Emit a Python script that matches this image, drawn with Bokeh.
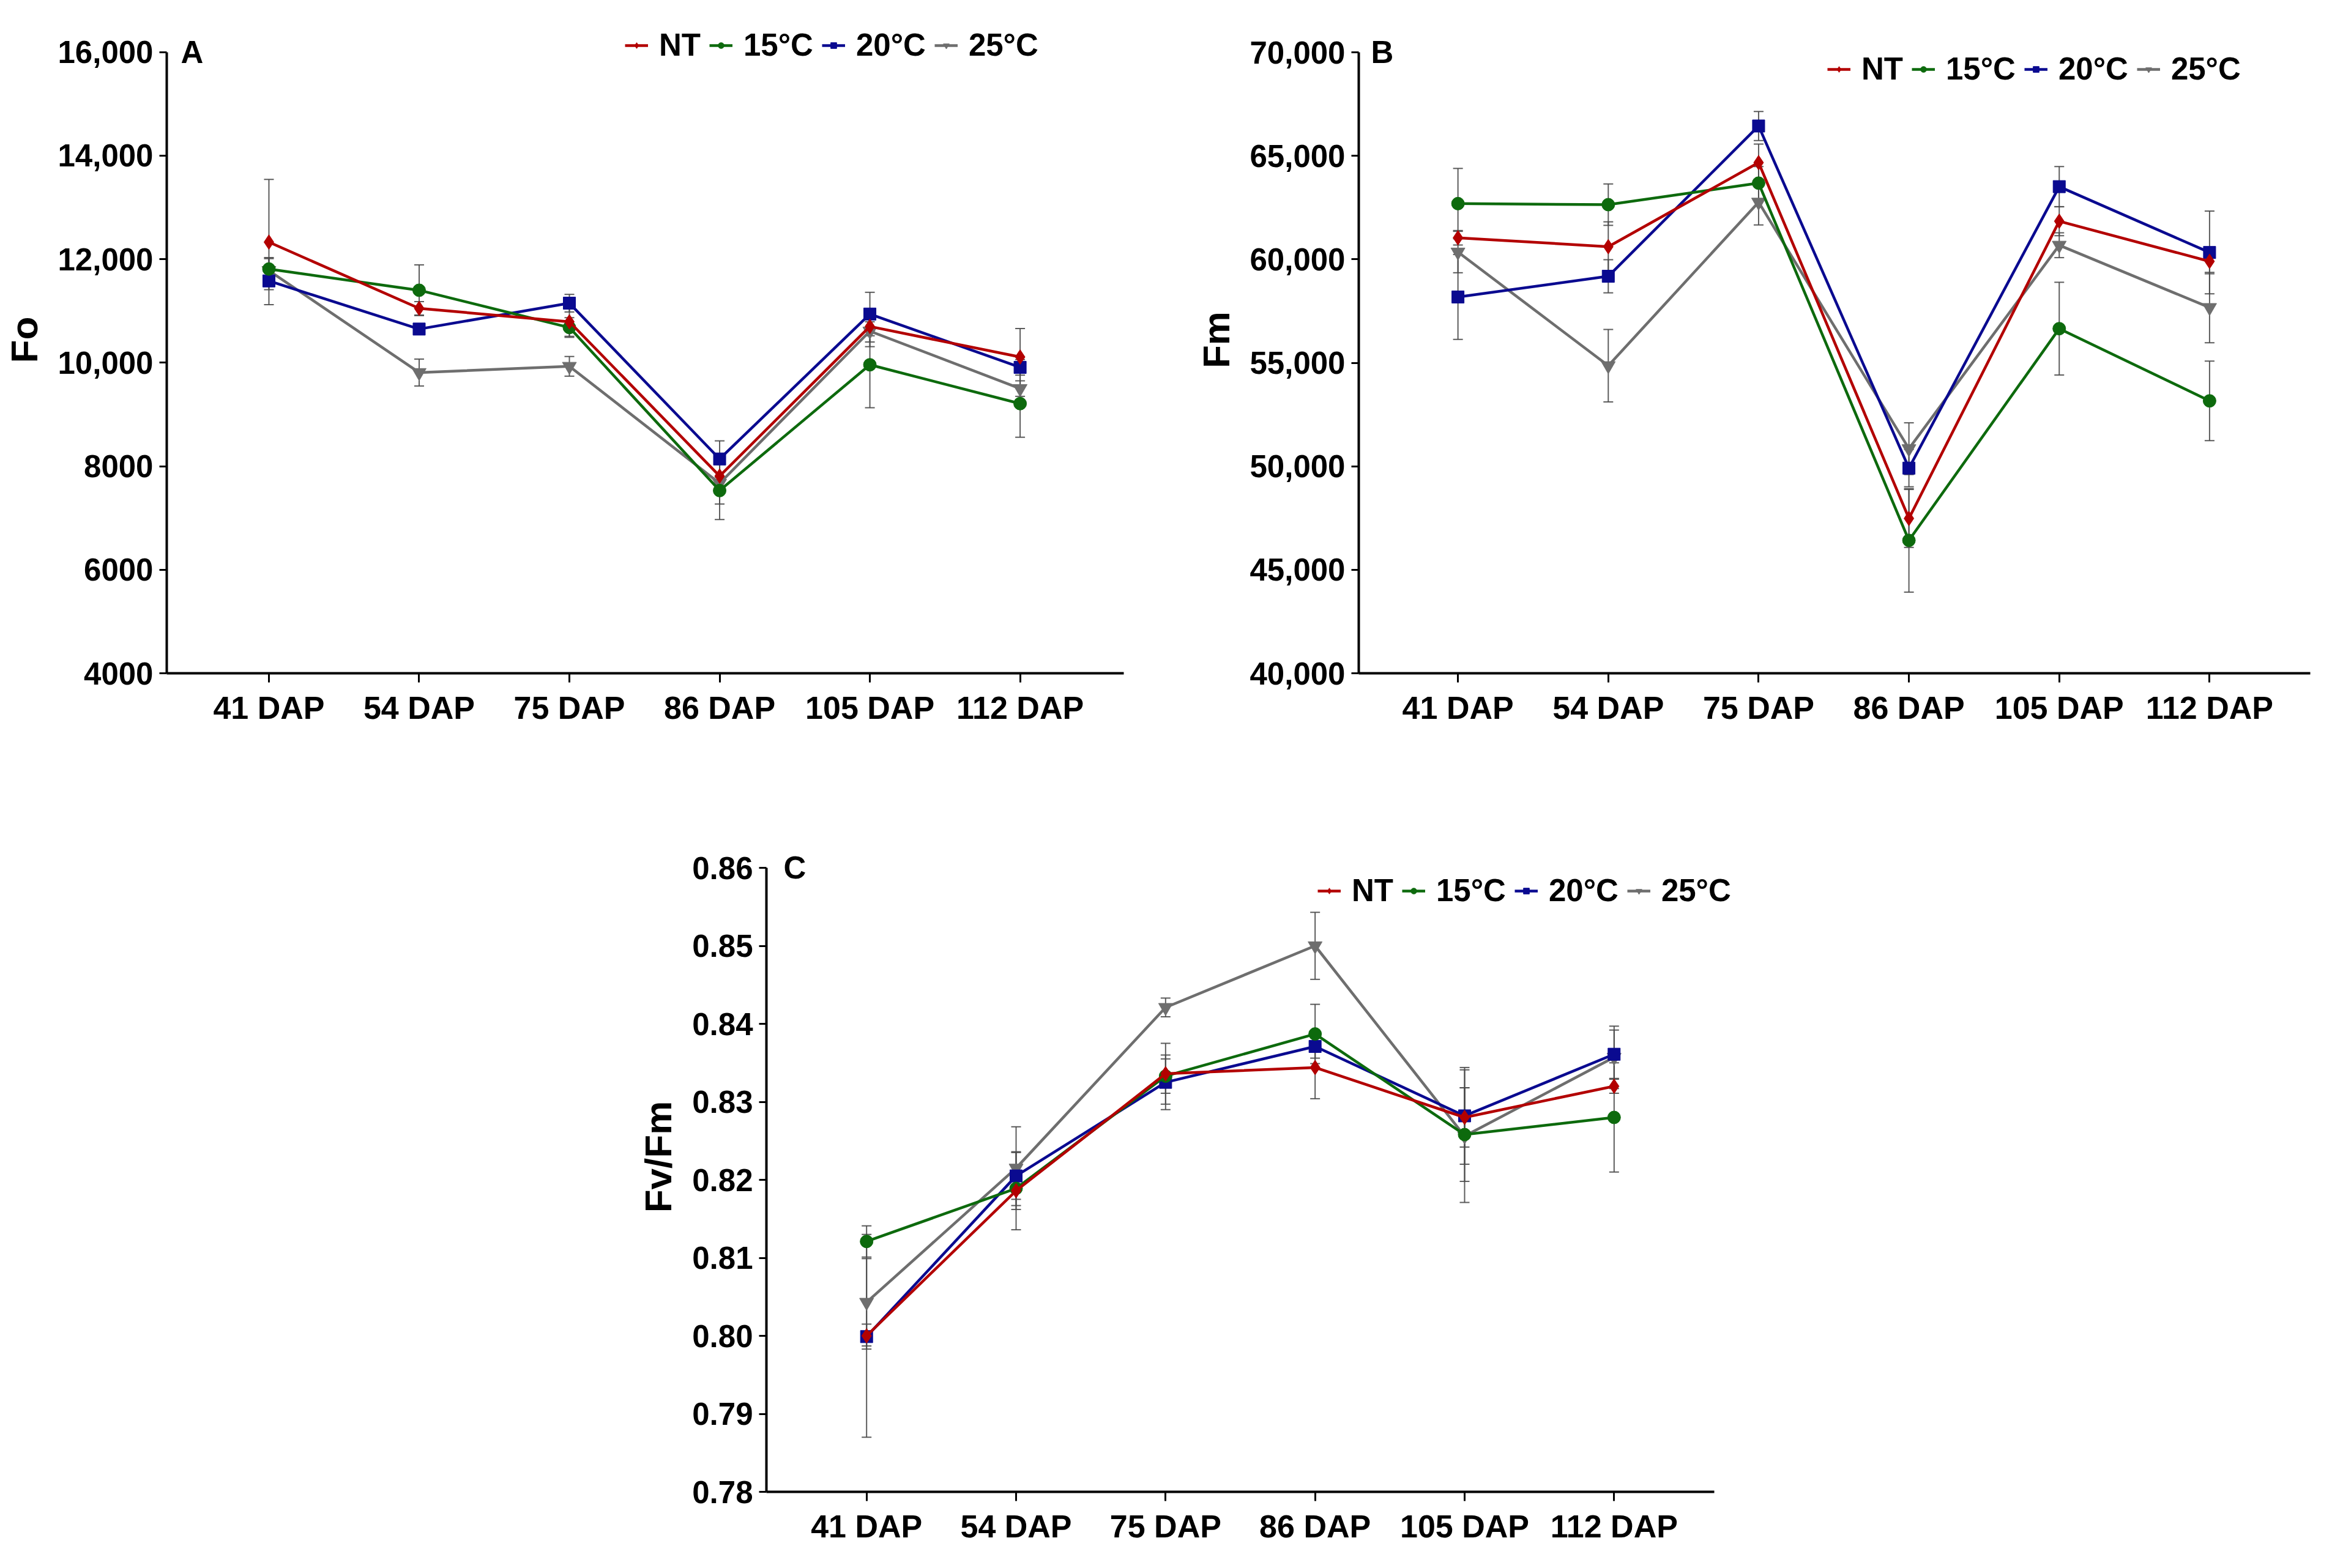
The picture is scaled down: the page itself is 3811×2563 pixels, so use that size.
from bokeh.plotting import figure
from bokeh.models import (ColumnDataSource, Whisker, TeeHead, Legend, LegendItem,
                          FixedTicker, Range1d, Label, NumeralTickFormatter, Spacer)
from bokeh.layouts import row, column
from bokeh.embed import file_html
from bokeh.resources import INLINE

# ---------------- data ----------------
x_labels = ["41 DAP", "54 DAP", "75 DAP", "86 DAP", "105 DAP", "112 DAP"]
series_names = ["NT", "15°C", "20°C", "25°C"]

# Panel A : Fo
fo_nt = [12330, 11050, 10790, 7810, 10700, 10110]
fo_15 = [11810, 11400, 10680, 7530, 9960, 9210]
fo_20 = [11580, 10650, 11150, 8140, 10940, 9910]
fo_25 = [11780, 9810, 9930, 7670, 10610, 9500]
fo_nt_err = [1210, 130, 280, 300, 300, 550]
fo_15_err = [200, 490, 190, 560, 830, 650]
fo_20_err = [170, 100, 170, 350, 420, 150]
fo_25_err = [250, 260, 190, 400, 300, 150]
fo_ticks = [4000, 6000, 8000, 10000, 12000, 14000, 16000]
fo_tick_labels = ["4000", "6000", "8000", "10,000", "12,000", "14,000", "16,000"]

# Panel B : Fm
fm_nt = [61040, 60610, 64670, 47480, 61840, 59900]
fm_15 = [62690, 62640, 63680, 46420, 56650, 53160]
fm_20 = [58180, 59180, 66440, 49910, 63510, 60330]
fm_25 = [60350, 54860, 62760, 50850, 60680, 57670]
fm_nt_err = [350, 1200, 900, 1400, 700, 600]
fm_15_err = [1700, 1000, 800, 2500, 2240, 1920]
fm_20_err = [2050, 800, 700, 900, 970, 2000]
fm_25_err = [1000, 1750, 1100, 1250, 600, 1700]
fm_ticks = [40000, 45000, 50000, 55000, 60000, 65000, 70000]
fm_tick_labels = ["40,000", "45,000", "50,000", "55,000", "60,000", "65,000", "70,000"]

# Panel C : Fv/Fm
fv_nt = [0.8000, 0.8186, 0.8336, 0.8344, 0.8280, 0.8320]
fv_15 = [0.8121, 0.8189, 0.8333, 0.8387, 0.8258, 0.8280]
fv_20 = [0.7999, 0.8205, 0.8325, 0.8371, 0.8282, 0.8361]
fv_25 = [0.8043, 0.8215, 0.8421, 0.8500, 0.8256, 0.8357]
fv_nt_err = [0.0130, 0.0050, 0.0039, 0.0040, 0.0038, 0.0009]
fv_15_err = [0.0020, 0.0022, 0.0022, 0.0038, 0.0060, 0.0070]
fv_20_err = [0.0016, 0.0030, 0.0035, 0.0015, 0.0062, 0.0031]
fv_25_err = [0.0056, 0.0053, 0.0012, 0.0043, 0.0085, 0.0040]
fv_ticks = [0.78, 0.79, 0.80, 0.81, 0.82, 0.83, 0.84, 0.85, 0.86]

# ---------------- style ----------------
COLORS = ["#B30000", "#0D6A0D", "#0A0A90", "#6E6E6E"]
MARKERS = ["diamond", "circle", "square", "inverted_triangle"]
MSIZES = [24, 21, 20, 23]
ERR_COLOR = "#4a4a4a"
FONT = "Liberation Sans"


def make_panel(letter, ylabel, vals, errs, ticks, tick_labels, fmt,
               bl, core_top, core_h, core_w, bb, br, xr,
               extra_top, extra_right, legend_loc, letter_dx, row_top):
    # frame extends above the top tick and right of the axis end so that
    # the legend / panel letter (which are clipped to the frame) stay visible
    ymin, ymax = ticks[0], ticks[-1]
    y_end = ymax + extra_top * (ymax - ymin) / core_h
    x_end = xr[1] + extra_right * (xr[1] - xr[0]) / core_w
    bt = core_top - extra_top - row_top
    width = bl + core_w + extra_right + br
    height = bt + extra_top + core_h + bb
    p = figure(width=width, height=height, output_backend="svg", toolbar_location=None,
               x_range=Range1d(xr[0], x_end), y_range=Range1d(ymin, y_end),
               min_border_left=bl, min_border_top=bt, min_border_bottom=bb,
               min_border_right=br)
    p.outline_line_color = None
    p.grid.visible = False
    p.background_fill_color = "white"
    p.border_fill_color = "white"

    xs = list(range(len(x_labels)))
    rends = {}
    for i in [3, 2, 1, 0]:
        v = vals[i]
        e = errs[i]
        src = ColumnDataSource(dict(x=xs, y=v,
                                    upper=[a + b for a, b in zip(v, e)],
                                    lower=[a - b for a, b in zip(v, e)]))
        w = Whisker(source=src, base="x", upper="upper", lower="lower",
                    line_color=ERR_COLOR, line_width=2, line_alpha=0.9, level="underlay",
                    upper_head=TeeHead(size=16, line_color=ERR_COLOR, line_width=2, line_alpha=0.9),
                    lower_head=TeeHead(size=16, line_color=ERR_COLOR, line_width=2, line_alpha=0.9))
        p.add_layout(w)
        ln = p.line("x", "y", source=src, line_color=COLORS[i], line_width=4.5)
        sc = p.scatter("x", "y", source=src, marker=MARKERS[i], size=MSIZES[i],
                       fill_color=COLORS[i], line_color=COLORS[i])
        rends[i] = [ln, sc]
    items = [LegendItem(label=series_names[i], renderers=rends[i]) for i in range(4)]

    legend = Legend(items=items, orientation="horizontal", location=legend_loc,
                    label_text_font=FONT, label_text_font_style="bold",
                    label_text_font_size="51px", label_text_color="black",
                    glyph_width=38, glyph_height=24,
                    label_standoff=18, spacing=14, padding=0, margin=0,
                    border_line_alpha=0, background_fill_alpha=0, label_height=50)
    p.add_layout(legend)

    for ax in (p.xaxis[0], p.yaxis[0]):
        ax.axis_line_width = 4
        ax.axis_line_color = "black"
        ax.major_tick_line_width = 3
        ax.major_tick_line_color = "black"
        ax.major_tick_in = 0
        ax.minor_tick_line_color = None
        ax.major_label_text_font = FONT
        ax.major_label_text_font_style = "bold"
        ax.major_label_text_color = "black"

    p.xaxis.major_label_text_font_size = "52px"
    p.yaxis.major_label_text_font_size = "51px"

    p.xaxis.ticker = FixedTicker(ticks=xs)
    p.xaxis.major_label_overrides = {i: lab for i, lab in enumerate(x_labels)}
    p.xaxis.major_tick_out = 15
    p.xaxis.major_label_standoff = 12
    p.xaxis.bounds = (xr[0], xr[1])

    p.yaxis.ticker = FixedTicker(ticks=ticks)
    if fmt is not None:
        p.yaxis.formatter = fmt
    else:
        p.yaxis.major_label_overrides = {t: l for t, l in zip(ticks, tick_labels)}
    p.yaxis.bounds = (ymin, ymax)
    p.yaxis.major_tick_out = 12
    p.yaxis.major_label_standoff = 10
    p.yaxis.axis_label = ylabel
    p.yaxis.axis_label_text_font = FONT
    p.yaxis.axis_label_text_font_style = "bold"
    p.yaxis.axis_label_text_font_size = "62px"
    p.yaxis.axis_label_standoff = 18
    p.yaxis.axis_label_text_color = "black"

    p.add_layout(Label(x=xr[0] + letter_dx, y=ymax, text=letter,
                       text_font=FONT, text_font_style="bold", text_font_size="51px",
                       text_baseline="middle", text_align="left", text_color="black"))
    return p


ROW1_TOP = 8
pA = make_panel("A", "Fo", [fo_nt, fo_15, fo_20, fo_25],
                [fo_nt_err, fo_15_err, fo_20_err, fo_25_err],
                fo_ticks, fo_tick_labels, None,
                bl=272, core_top=89, core_h=1019, core_w=1564, bb=130, br=44,
                xr=(-0.68, 5.69), extra_top=75, extra_right=0,
                legend_loc=(749, 997), letter_dx=0.094, row_top=ROW1_TOP)

pB = make_panel("B", "Fm", [fm_nt, fm_15, fm_20, fm_25],
                [fm_nt_err, fm_15_err, fm_20_err, fm_25_err],
                fm_ticks, fm_tick_labels, None,
                bl=340, core_top=93, core_h=1015, core_w=1555, bb=130, br=10,
                xr=(-0.66, 5.67), extra_top=75, extra_right=0,
                legend_loc=(766, 958), letter_dx=0.081, row_top=ROW1_TOP)

ROW2_TOP = ROW1_TOP + pA.height
pC = make_panel("C", "Fv/Fm", [fv_nt, fv_15, fv_20, fv_25],
                [fv_nt_err, fv_15_err, fv_20_err, fv_25_err],
                fv_ticks, None, NumeralTickFormatter(format="0.00"),
                bl=320, core_top=1426, core_h=1020, core_w=1549, bb=100, br=20,
                xr=(-0.67, 5.67), extra_top=75, extra_right=60,
                legend_loc=(901, 953), letter_dx=0.115, row_top=ROW2_TOP)

layout = column(row(pA, pB), row(Spacer(width=932, height=pC.height), pC))

open("out.html", "w").write(file_html(layout, INLINE))
